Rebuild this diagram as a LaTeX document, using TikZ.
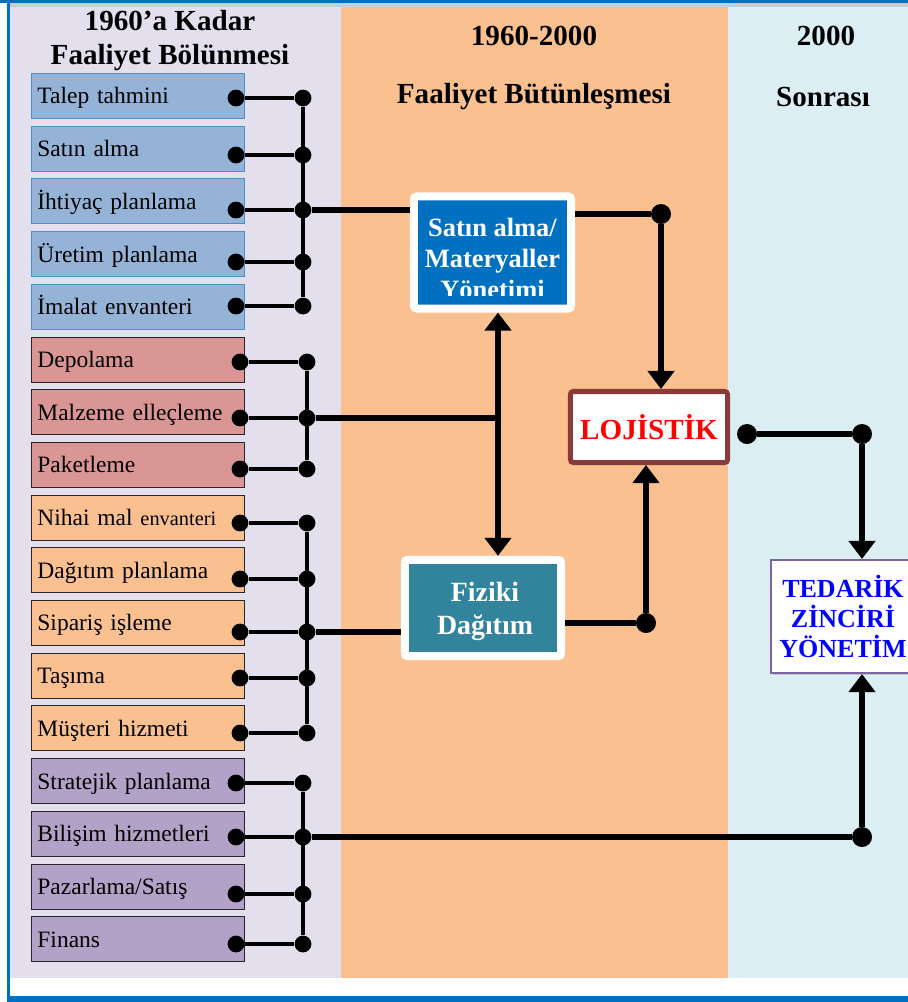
\documentclass[tikz,border=0pt]{standalone}
\usepackage{fontspec}
\setmainfont{Liberation Serif}
\usetikzlibrary{arrows.meta, positioning, shadows}

\definecolor{cercevemavi}{HTML}{0070C0}
\definecolor{solzemin}{HTML}{E4DFEC}
\definecolor{ortazemin}{HTML}{FAC090}
\definecolor{sagzemin}{HTML}{DAEEF3}
\definecolor{kutumavi}{HTML}{95B3D7}
\definecolor{kenarmavi}{HTML}{4A90D0}
\definecolor{kutukirmizi}{HTML}{D99694}
\definecolor{kututuruncu}{HTML}{FAC090}
\definecolor{kutumor}{HTML}{B3A2C7}
\definecolor{malzememavi}{HTML}{0070C0}
\definecolor{fizikimavi}{HTML}{31849B}
\definecolor{lojkenar}{HTML}{8B3A3A}
\definecolor{tzkenar}{HTML}{8064A2}

\tikzset{
  faaliyet/.style={draw=black!85, line width=0.6pt, anchor=north west,
    text width=5.025cm, minimum height=1.125cm, inner xsep=0.15cm, inner ysep=0pt,
    text height=0.5cm, text depth=0.1cm,
    align=left, font=\fontsize{16.7}{19}\selectfont},
  mavikutu/.style={faaliyet, fill=kutumavi, draw=kenarmavi},
  kirmizikutu/.style={faaliyet, fill=kutukirmizi},
  turuncukutu/.style={faaliyet, fill=kututuruncu},
  morkutu/.style={faaliyet, fill=kutumor},
  nokta/.style={circle, fill=black, inner sep=0pt, minimum size=0.42cm},
  buyuknokta/.style={nokta, minimum size=0.5cm},
  ince/.style={line width=0.1cm},
  kalin/.style={line width=0.17cm},
  ok/.style={kalin, -{Triangle[width=0.65cm, length=0.45cm]}},
  ciftok/.style={kalin, {Triangle[width=0.65cm, length=0.45cm]}-{Triangle[width=0.65cm, length=0.45cm]}},
  baslik/.style={font=\bfseries\fontsize{20.7}{24.2}\selectfont, align=center},
  ortakutu/.style={draw=white, line width=0.2cm, rounded corners=2pt,
    drop shadow={shadow xshift=0.03cm, shadow yshift=-0.08cm, opacity=0.3}},
  ortayazi/.style={text=white, font=\bfseries\fontsize{18.8}{22}\selectfont, align=center},
}

\begin{document}
\begin{tikzpicture}[x=0.025cm, y=-0.025cm]
\clip (0,0) rectangle (908,1002);
% zemin ve cerceve
\fill[white] (0,0) rectangle (908,1002);
\fill[cercevemavi] (0,0) rectangle (908,3);
\fill[black!20] (10,3) rectangle (908,7);
\fill[cercevemavi] (7,0) rectangle (10,1000);
\fill[cercevemavi] (7,996) rectangle (908,1002);
\fill[solzemin] (10,7) rectangle (341,978);
\fill[ortazemin] (341,7) rectangle (728,978);
\fill[sagzemin] (728,7) rectangle (908,978);

% basliklar
\node[baslik] (bas1) at (170,41) {1960’a Kadar\\Faaliyet Bölünmesi};
\node[baslik] (bas2) at (534,36) {1960-2000};
\node[baslik] (bas2alt) at (534,97) {Faaliyet Bütünleşmesi};
\node[baslik] (bas3) at (826,36) {2000};
\node[baslik] (bas3alt) at (823,97) {Sonrası};

% faaliyet kutulari
\foreach \ad/\tip/\dy/\bx [count=\i from 0] in {
  Talep tahmini/mavikutu/98/303, Satın alma/mavikutu/155/303,
  İhtiyaç planlama/mavikutu/210/303, Üretim planlama/mavikutu/262/303,
  İmalat envanteri/mavikutu/306/303,
  Depolama/kirmizikutu/362/307, Malzeme elleçleme/kirmizikutu/418/307,
  Paketleme/kirmizikutu/469/307,
  Nihai mal {\fontsize{14.5}{17}\selectfont envanteri}/turuncukutu/523/307,
  Dağıtım planlama/turuncukutu/579/307, Sipariş işleme/turuncukutu/632/307,
  Taşıma/turuncukutu/678/307, Müşteri hizmeti/turuncukutu/733/307,
  Stratejik planlama/morkutu/783/303, Bilişim hizmetleri/morkutu/837/303,
  {Pazarlama/Satış}/morkutu/894/303, Finans/morkutu/944/303}
{
  \node[\tip] (k\i) at (31,{73+52.7*\i}) {\ad};
  \node[nokta] (sol\i) at (\bx-67,\dy) {};
  \node[nokta] (bus\i) at (\bx,\dy) {};
  \draw[ince] (sol\i) -- (bus\i);
}
\draw[ince] (bus0) -- (bus4);
\draw[ince] (bus5) -- (bus7);
\draw[ince] (bus8) -- (bus12);
\draw[ince] (bus13) -- (bus16);

% butunlesme kutulari
\node[ortakutu, fill=malzememavi, minimum width=3.925cm, minimum height=2.8cm] (malz) at (492.5,252.5) {};
\begin{scope}
  \clip (418,200) rectangle (567,295);
  \node[ortayazi] (malzyazi) at (492.5,258.5) {Satın alma/\\Materyaller\\Yönetimi};
\end{scope}
\node[ortakutu, fill=fizikimavi, minimum width=3.9cm, minimum height=2.41cm] (fiz) at (483,608) {};
\node[ortayazi, font=\bfseries\fontsize{19.8}{23.5}\selectfont] (fizyazi) at (485,611) {Fiziki\\Dağıtım};
\node[draw=lojkenar, line width=0.125cm, fill=white, rounded corners=2pt, minimum width=3.925cm,
  minimum height=1.775cm, text=red, font=\bfseries\fontsize{20.7}{24}\selectfont] (loj) at (649,427) {LOJİSTİK};
\node[draw=tzkenar, line width=1.5pt, fill=white, minimum width=3.6cm, minimum height=2.825cm,
  text=blue, font=\bfseries\fontsize{18.5}{21.6}\selectfont, align=center,
  drop shadow={shadow xshift=0.05cm, shadow yshift=-0.06cm, opacity=0.3}] (tz) at (843,616.5) {TEDARİK\\ZİNCİRİ\\YÖNETİM};

% baglantilar
\coordinate (birlesme) at (498,418);
\node[buyuknokta] (dm) at (661,214) {};
\node[buyuknokta] (df) at (646,623) {};
\node[buyuknokta] (dl) at (747,434) {};
\node[buyuknokta] (dr) at (862,434) {};
\node[buyuknokta] (dt) at (862,837) {};

\draw[kalin] (bus2) -- (bus2 -| malz.west);
\draw[kalin] (dm -| malz.east) -- (dm);
\draw[ok] (dm) -- (dm |- loj.north);
\draw[kalin] (bus6) -- (birlesme);
\draw[ciftok] (birlesme |- malz.south) -- (birlesme |- fiz.north);
\draw[kalin] (bus10) -- (bus10 -| fiz.west);
\draw[kalin] (df -| fiz.east) -- (df);
\draw[ok] (df) -- (df |- loj.south);
\draw[kalin] (dl) -- (dr);
\draw[ok] (dr) -- (dr |- tz.north);
\draw[kalin] (bus14) -- (dt);
\draw[ok] (dt) -- (dt |- tz.south);
\end{tikzpicture}
\end{document}
